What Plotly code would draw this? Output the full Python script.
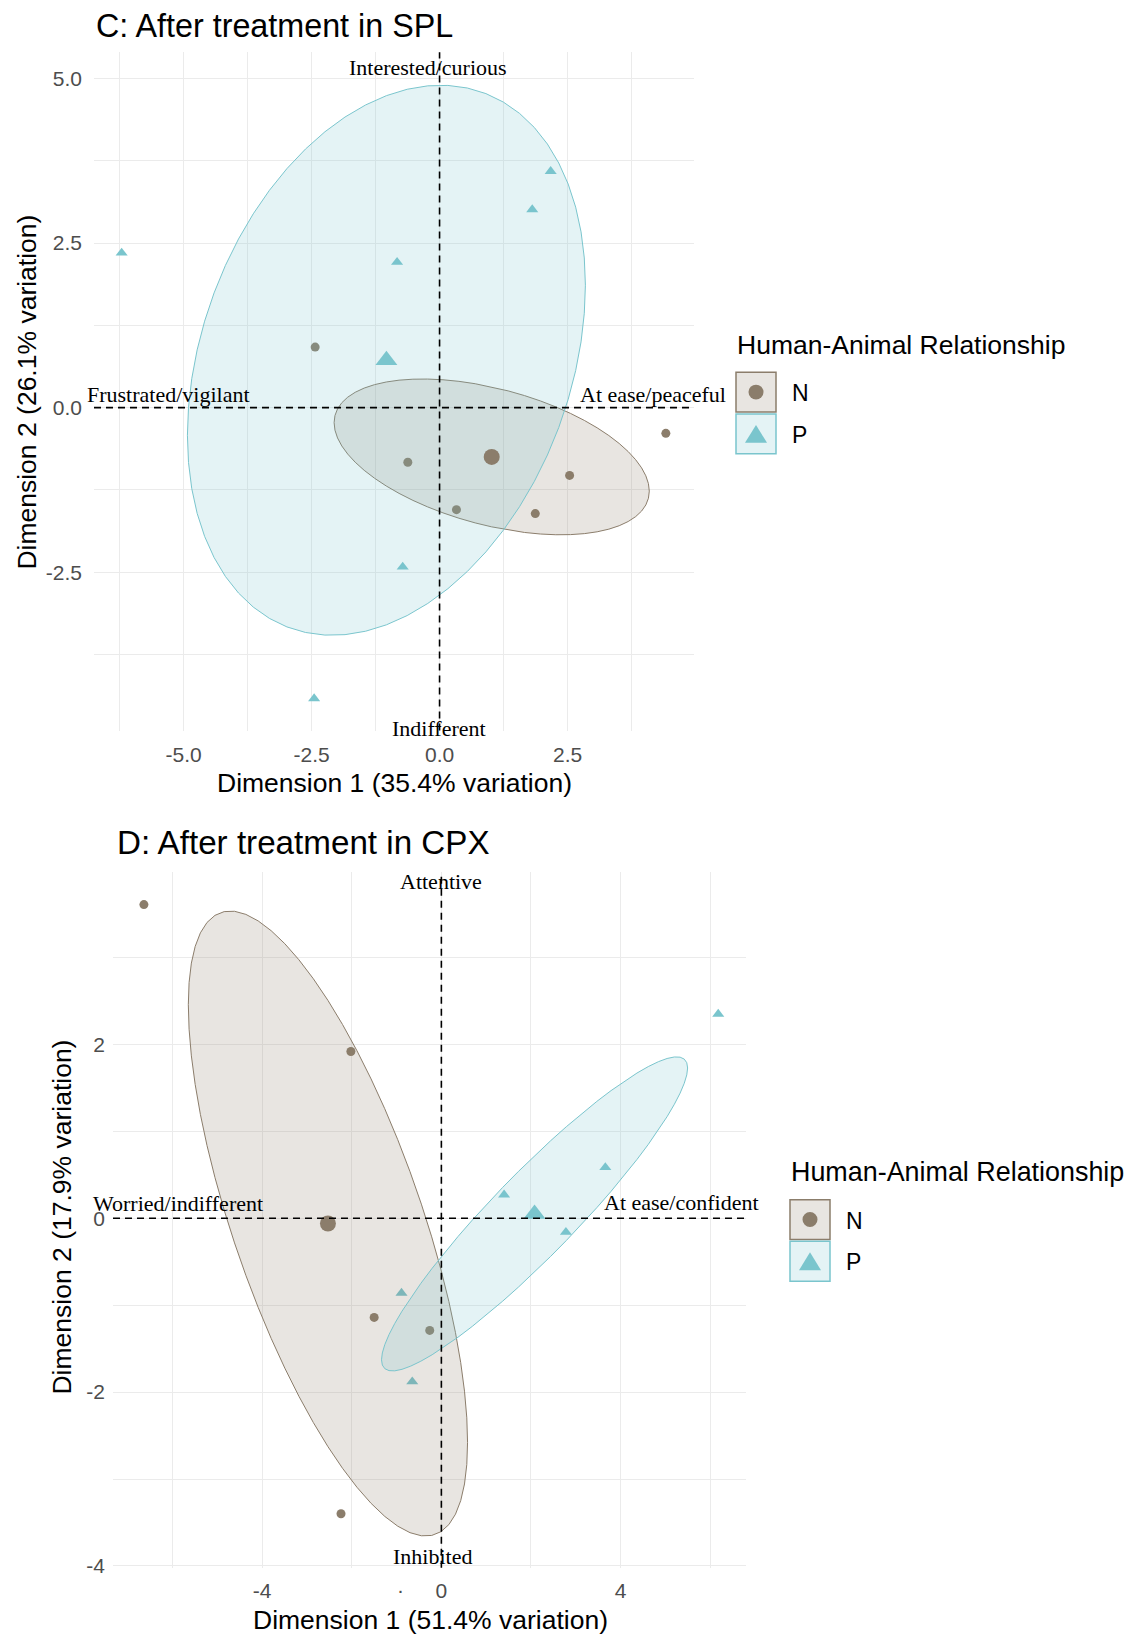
import numpy as np
import plotly.graph_objects as go

W, H = 1129, 1638

# ---- data: individual scores on the first two dimensions ----
# Panel C: after treatment in SPL
spl_n_dim1 = [-2.43, -0.62, 0.33, 1.87, 2.54, 4.42]
spl_n_dim2 = [0.92, -0.83, -1.55, -1.61, -1.03, -0.39]
spl_p_dim1 = [-6.21, -0.83, 1.81, 2.17, -0.72, -2.45]
spl_p_dim2 = [2.35, 2.21, 3.01, 3.59, -2.42, -4.42]

# Panel D: after treatment in CPX
cpx_n_dim1 = [-6.64, -2.02, -1.50, -0.26, -2.24]
cpx_n_dim2 = [3.61, 1.92, -1.14, -1.29, -3.40]
cpx_p_dim1 = [6.18, 3.66, 1.40, 2.78, -0.89, -0.65]
cpx_p_dim2 = [2.35, 0.585, 0.27, -0.16, -0.86, -1.88]

groups = ["N", "P"]

# tick values and labels
spl_xticks = [-5.0, -2.5, 0.0, 2.5]
spl_xticklabels = ["-5.0", "-2.5", "0.0", "2.5"]
spl_yticks = [-2.5, 0.0, 2.5, 5.0]
spl_yticklabels = ["-2.5", "0.0", "2.5", "5.0"]
cpx_xticks = [-4, 0, 4]
cpx_xticklabels = ["-4", "0", "4"]
cpx_yticks = [-4, -2, 0, 2]
cpx_yticklabels = ["-4", "-2", "0", "2"]

# ---- styling ----
COL = {"N": "#8B7D6B", "P": "#7AC5CD"}          # bisque4 / CadetBlue3
FILL = {"N": "rgba(139,125,107,0.2)", "P": "rgba(122,197,205,0.2)"}
SYM = {"N": "circle", "P": "triangle-up"}
SANS = "Liberation Sans, Arial, sans-serif"
SERIF = "Liberation Serif, Times New Roman, serif"
TICK_COL = "#4D4D4D"
GRID = "#EBEBEB"


def px(x):
    return x / W


def py(y):
    return 1 - y / H


def norm_ellipse(x, y, level=0.5, segments=60):
    """Normal-theory data ellipse (same construction as ggplot2's stat_ellipse, type='norm')."""
    x = np.asarray(x, float)
    y = np.asarray(y, float)
    n = len(x)
    centre = np.array([x.mean(), y.mean()])
    cov = np.cov(np.vstack([x, y]))
    chol = np.linalg.cholesky(cov).T
    dfd = n - 1
    # quantile of F(2, dfd) in closed form
    fq = dfd / 2.0 * ((1 - level) ** (-2.0 / dfd) - 1)
    radius = np.sqrt(2 * fq)
    t = np.linspace(0, 2 * np.pi, segments + 1)
    unit = np.column_stack([np.cos(t), np.sin(t)])
    pts = centre + radius * unit @ chol
    return pts[:, 0], pts[:, 1]


fig = go.Figure()

panels = [
    dict(xa="x", ya="y", data={"N": (spl_n_dim1, spl_n_dim2), "P": (spl_p_dim1, spl_p_dim2)}),
    dict(xa="x2", ya="y2", data={"N": (cpx_n_dim1, cpx_n_dim2), "P": (cpx_p_dim1, cpx_p_dim2)}),
]

for p in panels:
    # individuals
    for g in groups:
        gx, gy = p["data"][g]
        fig.add_trace(go.Scatter(
            x=gx, y=gy, mode="markers", xaxis=p["xa"], yaxis=p["ya"],
            marker=dict(symbol=SYM[g], color=COL[g], size=9 if g == "N" else 10.5,
                        line=dict(width=0)),
            showlegend=False, hoverinfo="skip"))
    # ellipses
    for g in groups:
        gx, gy = p["data"][g]
        ex, ey = norm_ellipse(gx, gy)
        fig.add_trace(go.Scatter(
            x=ex, y=ey, mode="lines", fill="toself", fillcolor=FILL[g],
            line=dict(color=COL[g], width=1), xaxis=p["xa"], yaxis=p["ya"],
            showlegend=False, hoverinfo="skip"))
    # group means
    for g in groups:
        gx, gy = p["data"][g]
        fig.add_trace(go.Scatter(
            x=[np.mean(gx)], y=[np.mean(gy)], mode="markers", xaxis=p["xa"], yaxis=p["ya"],
            marker=dict(symbol=SYM[g], color=COL[g], size=16 if g == "N" else 19,
                        line=dict(width=0)),
            showlegend=False, hoverinfo="skip"))

# dashed reference lines through the origin
for xa, ya in [("x", "y"), ("x2", "y2")]:
    fig.add_shape(type="line", xref=xa, yref=f"{ya} domain", x0=0, x1=0, y0=0, y1=1,
                  line=dict(color="black", width=1.6, dash="7px,5px"), layer="above")
    fig.add_shape(type="line", xref=f"{xa} domain", yref=ya, x0=0, x1=1, y0=0, y1=0,
                  line=dict(color="black", width=1.6, dash="7px,5px"), layer="above")


def axis(domain, rng, tickvals, ticktext, minor_step, anchor, standoff):
    return dict(
        domain=domain, range=rng, anchor=anchor,
        tickmode="array", tickvals=tickvals, ticktext=ticktext,
        showgrid=True, gridcolor=GRID, gridwidth=1.2,
        minor=dict(tickmode="linear", tick0=0, dtick=minor_step, showgrid=True,
                   gridcolor=GRID, gridwidth=1.2),
        zeroline=False, showline=False, ticks="",
        tickfont=dict(family=SANS, size=21, color=TICK_COL),
        ticklabelstandoff=standoff,
    )


fig.update_layout(
    width=W, height=H, margin=dict(l=0, r=0, t=0, b=0),
    paper_bgcolor="white", plot_bgcolor="white", showlegend=False,
    xaxis=axis([px(94), px(694)], [-6.75, 4.97], spl_xticks, spl_xticklabels, 1.25, "y", 9),
    yaxis=axis([py(735), py(52.5)], [-4.905, 5.40], spl_yticks, spl_yticklabels, 1.25, "x", 11),
    xaxis2=axis([px(113), px(746)], [-7.33, 6.80], cpx_xticks, cpx_xticklabels, 2, "y2", 8),
    yaxis2=axis([py(1577.3), py(877.8)], [-4.02, 3.98], cpx_yticks, cpx_yticklabels, 1, "x2", 7),
)

ann = []


def text(x, y, s, size, family=SANS, color="black", xanchor="center", xref="paper",
         yref="paper", angle=0):
    ann.append(dict(x=x, y=y, xref=xref, yref=yref, text=s, showarrow=False,
                    xanchor=xanchor, yanchor="middle", textangle=angle,
                    font=dict(family=family, size=size, color=color)))


# titles
text(px(94), py(26), "C: After treatment in SPL", 32.3, xanchor="left")
text(px(115), py(848), "D: After treatment in CPX", 33.2, xanchor="left")

# axis titles
text(px(394), py(788), "Dimension 1 (35.4% variation)", 26.5)
text(px(27), py(395), "Dimension 2 (26.1% variation)", 26.5, angle=-90)
text(px(430), py(1630), "Dimension 1 (51.4% variation)", 26.5)
text(px(62), py(1225), "Dimension 2 (17.9% variation)", 26.5, angle=-90)
text(px(400), py(1599), "·", 21, color=TICK_COL)

# behaviour labels at the ends of the axes
text(-0.23, 5.17, "Interested/curious", 22, SERIF, xref="x", yref="y")
text(-0.02, -4.87, "Indifferent", 22, SERIF, xref="x", yref="y")
text(-5.30, 0.20, "Frustrated/vigilant", 22, SERIF, xref="x", yref="y")
text(4.16, 0.20, "At ease/peaceful", 22, SERIF, xref="x", yref="y")
text(0.0, 3.88, "Attentive", 22, SERIF, xref="x2", yref="y2")
text(-0.19, -3.89, "Inhibited", 22, SERIF, xref="x2", yref="y2")
text(-5.87, 0.175, "Worried/indifferent", 22, SERIF, xref="x2", yref="y2")
text(5.37, 0.18, "At ease/confident", 22, SERIF, xref="x2", yref="y2")


# legends
def legend(left, title_y, top, title_size):
    text(px(left - 1), py(title_y), "Human-Animal Relationship", title_size, xanchor="left")
    box = 40
    for i, g in enumerate(groups):
        y0 = top + i * (box + 2)
        fig.add_shape(type="rect", xref="paper", yref="paper",
                      x0=px(left), x1=px(left + box), y0=py(y0 + box), y1=py(y0),
                      fillcolor=FILL[g], line=dict(color=COL[g], width=1.5))
        cx, cy = left + box / 2, y0 + box / 2
        if g == "N":
            r = 7.5
            fig.add_shape(type="circle", xref="paper", yref="paper",
                          x0=px(cx - r), x1=px(cx + r), y0=py(cy + r), y1=py(cy - r),
                          fillcolor=COL[g], line=dict(width=0))
        else:
            hw, hh = 11, 9
            path = (f"M {px(cx - hw)},{py(cy + hh)} L {px(cx + hw)},{py(cy + hh)} "
                    f"L {px(cx)},{py(cy - hh)} Z")
            fig.add_shape(type="path", xref="paper", yref="paper", path=path,
                          fillcolor=COL[g], line=dict(width=0))
        text(px(left + box + 14), py(cy + 1), g, 23, xanchor="left")


legend(736, 347, 374.5, 26.5)
legend(790, 1179, 1207, 26.9)

fig.update_layout(annotations=ann)
fig.write_html("out.html")
